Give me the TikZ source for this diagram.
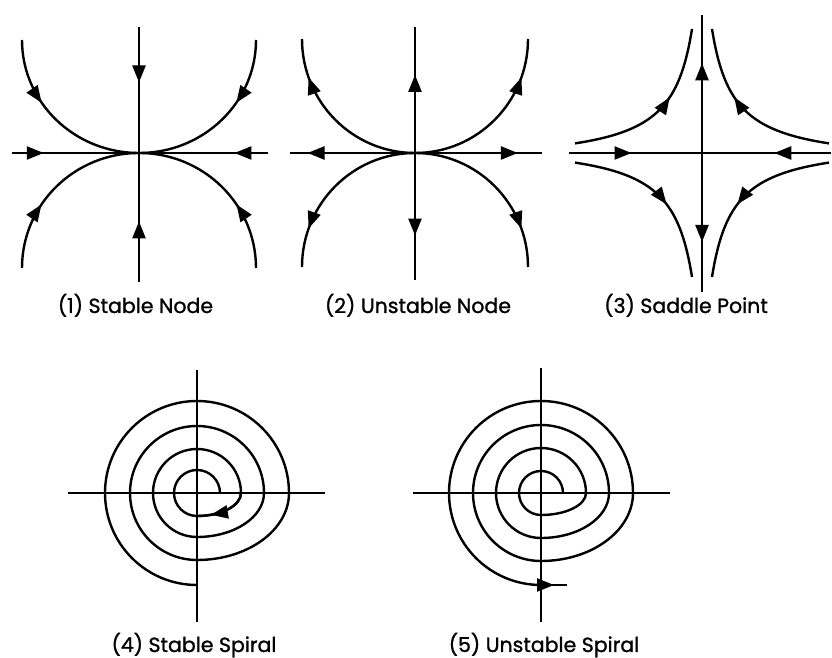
\documentclass[tikz,border=0pt]{standalone}
\usepackage{fontspec}
\setmainfont{Poppins}
\newfontfamily\labfont{Poppins}[FakeBold=1.2]
\usetikzlibrary{arrows.meta,decorations.markings,calc}
\tikzset{
  traj/.style={line width=2.4pt},
  flow/.style={postaction={decorate,decoration={markings,mark=at position #1 with {\arrow{Triangle[length=17pt,width=13pt]}}}}},
  lab/.style={anchor=base,inner sep=0pt,font=\labfont\fontsize{20.5}{24}\selectfont}
}
\begin{document}
\begin{tikzpicture}[x=1pt,y=1pt]
\useasboundingbox (0,0) rectangle (832,658);
% ---------- (1) stable node
\coordinate (c1) at (139,505);
\coordinate (n1) at (139,631); \coordinate (s1) at (139,376);
\coordinate (w1) at (12,505);  \coordinate (e1) at (268,505);
\draw[traj,flow=0.44] (n1) -- (c1);
\draw[traj,flow=0.47] (s1) -- (c1);
\draw[traj,flow=0.25] (w1) -- (c1);
\draw[traj,flow=0.26] (e1) -- (c1);
\draw[traj,flow=0.37] ($(c1)+(-117,113)$) arc[start angle=180,end angle=270,x radius=117,y radius=113];
\draw[traj,flow=0.37] ($(c1)+(117,113)$) arc[start angle=0,end angle=-90,x radius=117,y radius=113];
\draw[traj,flow=0.37] ($(c1)+(-117,-115)$) arc[start angle=180,end angle=90,x radius=117,y radius=115];
\draw[traj,flow=0.37] ($(c1)+(117,-115)$) arc[start angle=0,end angle=90,x radius=117,y radius=115];
% ---------- (2) unstable node
\coordinate (c2) at (415,505);
\coordinate (n2) at (415,631); \coordinate (s2) at (415,378);
\coordinate (w2) at (290,505); \coordinate (e2) at (542,505);
\draw[traj,flow=0.62] (c2) -- (n2);
\draw[traj,flow=0.65] (c2) -- (s2);
\draw[traj,flow=0.86] (c2) -- (w2);
\draw[traj,flow=0.81] (c2) -- (e2);
\draw[traj,flow=0.78] (c2) arc[start angle=270,end angle=180,x radius=113,y radius=114];
\draw[traj,flow=0.78] (c2) arc[start angle=270,end angle=360,x radius=113,y radius=114];
\draw[traj,flow=0.78] (c2) arc[start angle=90,end angle=180,x radius=113,y radius=114];
\draw[traj,flow=0.78] (c2) arc[start angle=90,end angle=0,x radius=113,y radius=114];
% ---------- (3) saddle point
\coordinate (c3) at (702,505);
\coordinate (n3) at (702,643); \coordinate (s3) at (702,366);
\coordinate (w3) at (569,505); \coordinate (e3) at (831,505);
\draw[traj,flow=0.47] (w3) -- (c3);
\draw[traj,flow=0.44] (e3) -- (c3);
\draw[traj,flow=0.65] (c3) -- (n3);
\draw[traj,flow=0.64] (c3) -- (s3);
\begin{scope}[shift={(c3)}]
\draw[traj,flow=0.6]  (-127,9.6) .. controls (-46.1,22.1) and (-22.3,47.5) .. (-10,124);
\draw[traj,flow=0.6]  (127,9.6) .. controls (46.1,22.1) and (22.3,47.5) .. (10,124);
\draw[traj,flow=0.57] (-127,-9.6) .. controls (-46.1,-22.1) and (-22.3,-47.5) .. (-10,-124);
\draw[traj,flow=0.57] (127,-9.6) .. controls (46.1,-22.1) and (22.3,-47.5) .. (10,-124);
\end{scope}
% ---------- (4) stable spiral
\coordinate (c4) at (197,165);
\coordinate (n4) at (197,288); \coordinate (s4) at (197,36);
\coordinate (w4) at (68,165);  \coordinate (e4) at (325,165);
\draw[traj] (n4) -- (s4);
\draw[traj] (w4) -- (e4);
\draw[traj] ($(c4)+(0,-92)$)
  arc[start angle=-90,end angle=-360,radius=92]
  arc[start angle=0,end angle=-90,x radius=92,y radius=67]
  arc[start angle=-90,end angle=-360,radius=67]
  arc[start angle=0,end angle=-90,x radius=67,y radius=44]
  arc[start angle=-90,end angle=-360,radius=44]
  arc[start angle=0,end angle=-90,x radius=44,y radius=23]
  arc[start angle=-90,end angle=-360,radius=23];
\draw[traj,flow=0.74] ($(c4)+(44,0)$) arc[start angle=0,end angle=-90,x radius=44,y radius=23];
% ---------- (5) unstable spiral
\coordinate (c5) at (541,165);
\coordinate (n5) at (541,290); \coordinate (s5) at (541,36);
\coordinate (w5) at (413,165); \coordinate (e5) at (670,165);
\draw[traj] (n5) -- (s5);
\draw[traj] (w5) -- (e5);
\draw[traj] ($(c5)+(22,0)$)
  arc[start angle=0,end angle=270,radius=22]
  arc[start angle=-90,end angle=0,x radius=45,y radius=22]
  arc[start angle=0,end angle=270,radius=45]
  arc[start angle=-90,end angle=0,x radius=68,y radius=45]
  arc[start angle=0,end angle=270,radius=68]
  arc[start angle=-90,end angle=0,x radius=92,y radius=68]
  arc[start angle=0,end angle=270,radius=92];
\coordinate (t5) at ($(c5)+(0,-92)$);
\coordinate (u5) at ($(c5)+(26,-92)$);
\draw[traj,flow=0.5] (t5) -- (u5);
% ---------- labels
\node[lab] (l1) at (135.5,345) {(1) Stable Node};
\node[lab] (l2) at (418,345) {(2) Unstable Node};
\node[lab] (l3) at (686,345) {(3) Saddle Point};
\node[lab] (l4) at (194,6) {(4) Stable Spiral};
\node[lab] (l5) at (544,6) {(5) Unstable Spiral};
\end{tikzpicture}
\end{document}
